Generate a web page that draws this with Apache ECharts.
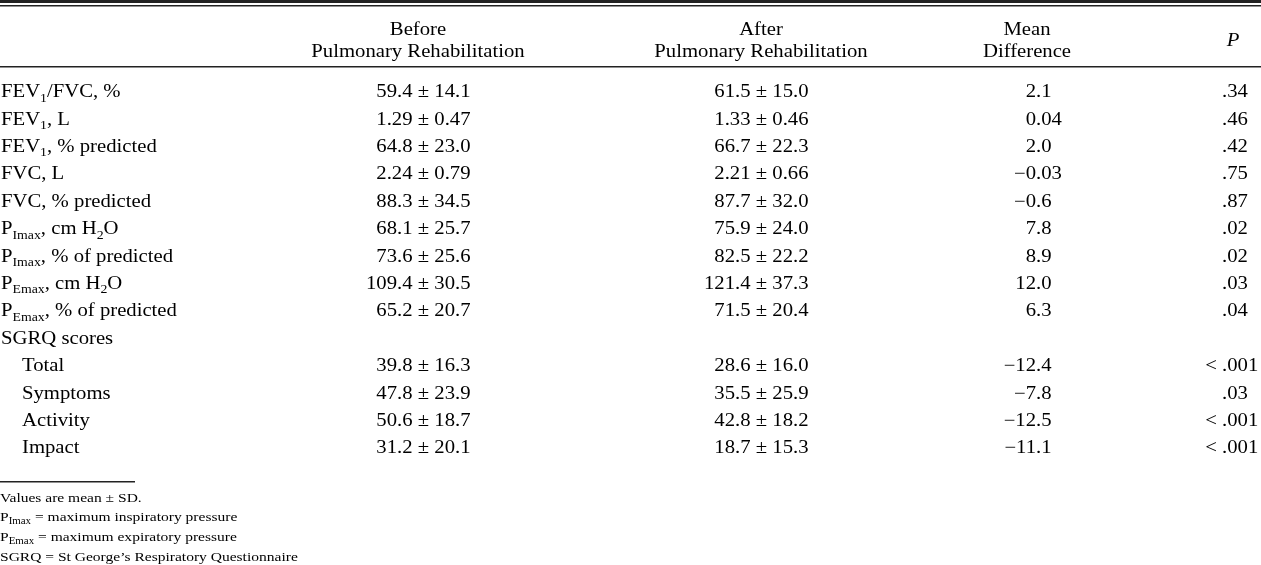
<!DOCTYPE html>
<html><head><meta charset="utf-8">
<script src="https://cdn.jsdelivr.net/npm/echarts@6/dist/echarts.min.js"></script>
<style>html,body{margin:0;padding:0;background:#fff}#c{width:1261px;height:565px}</style>
</head><body><div id="c"></div>
<script>
// ---------- data ----------
const rowLabels = [
  'FEV{s|1}/FVC, %',
  'FEV{s|1}, L',
  'FEV{s|1}, % predicted',
  'FVC, L',
  'FVC, % predicted',
  'P{s|Imax}, cm H{s|2}O',
  'P{s|Imax}, % of predicted',
  'P{s|Emax}, cm H{s|2}O',
  'P{s|Emax}, % of predicted',
  'SGRQ scores',
  'Total',
  'Symptoms',
  'Activity',
  'Impact'
];
const rowLevel = [0,0,0,0,0,0,0,0,0,0,1,1,1,1];
const beforeMean = ['59.4','1.29','64.8','2.24','88.3','68.1','73.6','109.4','65.2','','39.8','47.8','50.6','31.2'];
const beforeSD   = ['14.1','0.47','23.0','0.79','34.5','25.7','25.6','30.5','20.7','','16.3','23.9','18.7','20.1'];
const afterMean  = ['61.5','1.33','66.7','2.21','87.7','75.9','82.5','121.4','71.5','','28.6','35.5','42.8','18.7'];
const afterSD    = ['15.0','0.46','22.3','0.66','32.0','24.0','22.2','37.3','20.4','','16.0','25.9','18.2','15.3'];
const meanDiff   = ['2.1','0.04','2.0','\u22120.03','\u22120.6','7.8','8.9','12.0','6.3','','\u221212.4','\u22127.8','\u221212.5','\u221211.1'];
const pValues    = ['.34','.46','.42','.75','.87','.02','.02','.03','.04','','< .001','.03','< .001','< .001'];
const headerCols = [['Before','Pulmonary Rehabilitation'],['After','Pulmonary Rehabilitation'],['Mean','Difference']];
const headerP = 'P';
const footnotes = [
  'Values are mean \u00b1 SD.',
  'P{s|Imax} = maximum inspiratory pressure',
  'P{s|Emax} = maximum expiratory pressure',
  'SGRQ = St George\u2019s Respiratory Questionnaire'
];

// ---------- layout ----------
const FONT = '"Liberation Serif", "Times New Roman", serif';
const FS = 18, SUB = 12, SX = 1.15, INK = '#000', RULE = '#222';
const X = { label: 1, indent: 21, beforeRight: 470.5, afterRight: 808.5, diffDec: 1036, pDec: 1222 };
const HX = [418, 761, 1027], HP = 1233;
const richBody = { s: { fontSize: SUB, lineHeight: 12, verticalAlign: 'bottom', fontFamily: FONT, fill: INK } };

function textEl(x, y, text, align, opt) {
  opt = opt || {};
  return {
    type: 'text', x: x, y: y, scaleX: SX,
    style: Object.assign({
      text: text, x: 0, y: 0, fill: INK, fontFamily: FONT, fontSize: FS,
      lineHeight: 24, align: align, verticalAlign: 'middle', rich: richBody
    }, opt)
  };
}
function decimalSplit(s) {
  const k = s.indexOf('.');
  return k < 0 ? [s, ''] : [s.slice(0, k), s.slice(k)];
}

const chart = echarts.init(document.getElementById('c'), null, { renderer: 'canvas' });

const graphics = [
  { type: 'rect', shape: { x: 0, y: 0, width: 1261, height: 3 }, style: { fill: RULE } },
  { type: 'rect', shape: { x: 0, y: 5, width: 1261, height: 1.5 }, style: { fill: RULE } },
  { type: 'rect', shape: { x: 0, y: 66, width: 1261, height: 1.5 }, style: { fill: RULE } },
  { type: 'rect', shape: { x: 0, y: 481, width: 135, height: 1.5 }, style: { fill: RULE } }
];
headerCols.forEach((h, i) => {
  graphics.push(textEl(HX[i], 30, h[0], 'center'));
  graphics.push(textEl(HX[i], 52, h[1], 'center'));
});
graphics.push(textEl(HP, 41, headerP, 'center', { fontStyle: 'italic' }));
footnotes.forEach((f, i) => {
  graphics.push(textEl(0, 498 + i * 19.8, f, 'left', {
    fontSize: 13.5, lineHeight: 18,
    rich: { s: { fontSize: 9.5, lineHeight: 9, verticalAlign: 'bottom', fontFamily: FONT, fill: INK } }
  }));
});

chart.setOption({
  animation: false,
  grid: { left: 0, right: 0, top: 78.8, bottom: 102.6, containLabel: false },
  xAxis: { type: 'value', min: 0, max: 1261, show: false },
  yAxis: { type: 'category', data: rowLabels, inverse: true, show: false },
  graphic: graphics,
  series: [{
    type: 'custom',
    clip: false,
    data: rowLabels.map((_, i) => [0, i]),
    encode: { x: 0, y: 1 },
    renderItem: function (params, api) {
      const i = params.dataIndex;
      const y = api.coord([0, i])[1];
      const cx = v => api.coord([v, i])[0];
      const kids = [textEl(cx(X.label + rowLevel[i] * X.indent), y, rowLabels[i], 'left')];
      if (beforeMean[i]) {
        kids.push(textEl(cx(X.beforeRight), y, beforeMean[i] + ' \u00b1 ' + beforeSD[i], 'right'));
        kids.push(textEl(cx(X.afterRight), y, afterMean[i] + ' \u00b1 ' + afterSD[i], 'right'));
        const d = decimalSplit(meanDiff[i]);
        kids.push(textEl(cx(X.diffDec), y, d[0], 'right'));
        kids.push(textEl(cx(X.diffDec), y, d[1], 'left'));
        const p = decimalSplit(pValues[i]);
        if (p[0]) kids.push(textEl(cx(X.pDec), y, p[0], 'right'));
        kids.push(textEl(cx(X.pDec), y, p[1], 'left'));
      }
      return { type: 'group', children: kids };
    }
  }]
});
</script>
</body></html>
